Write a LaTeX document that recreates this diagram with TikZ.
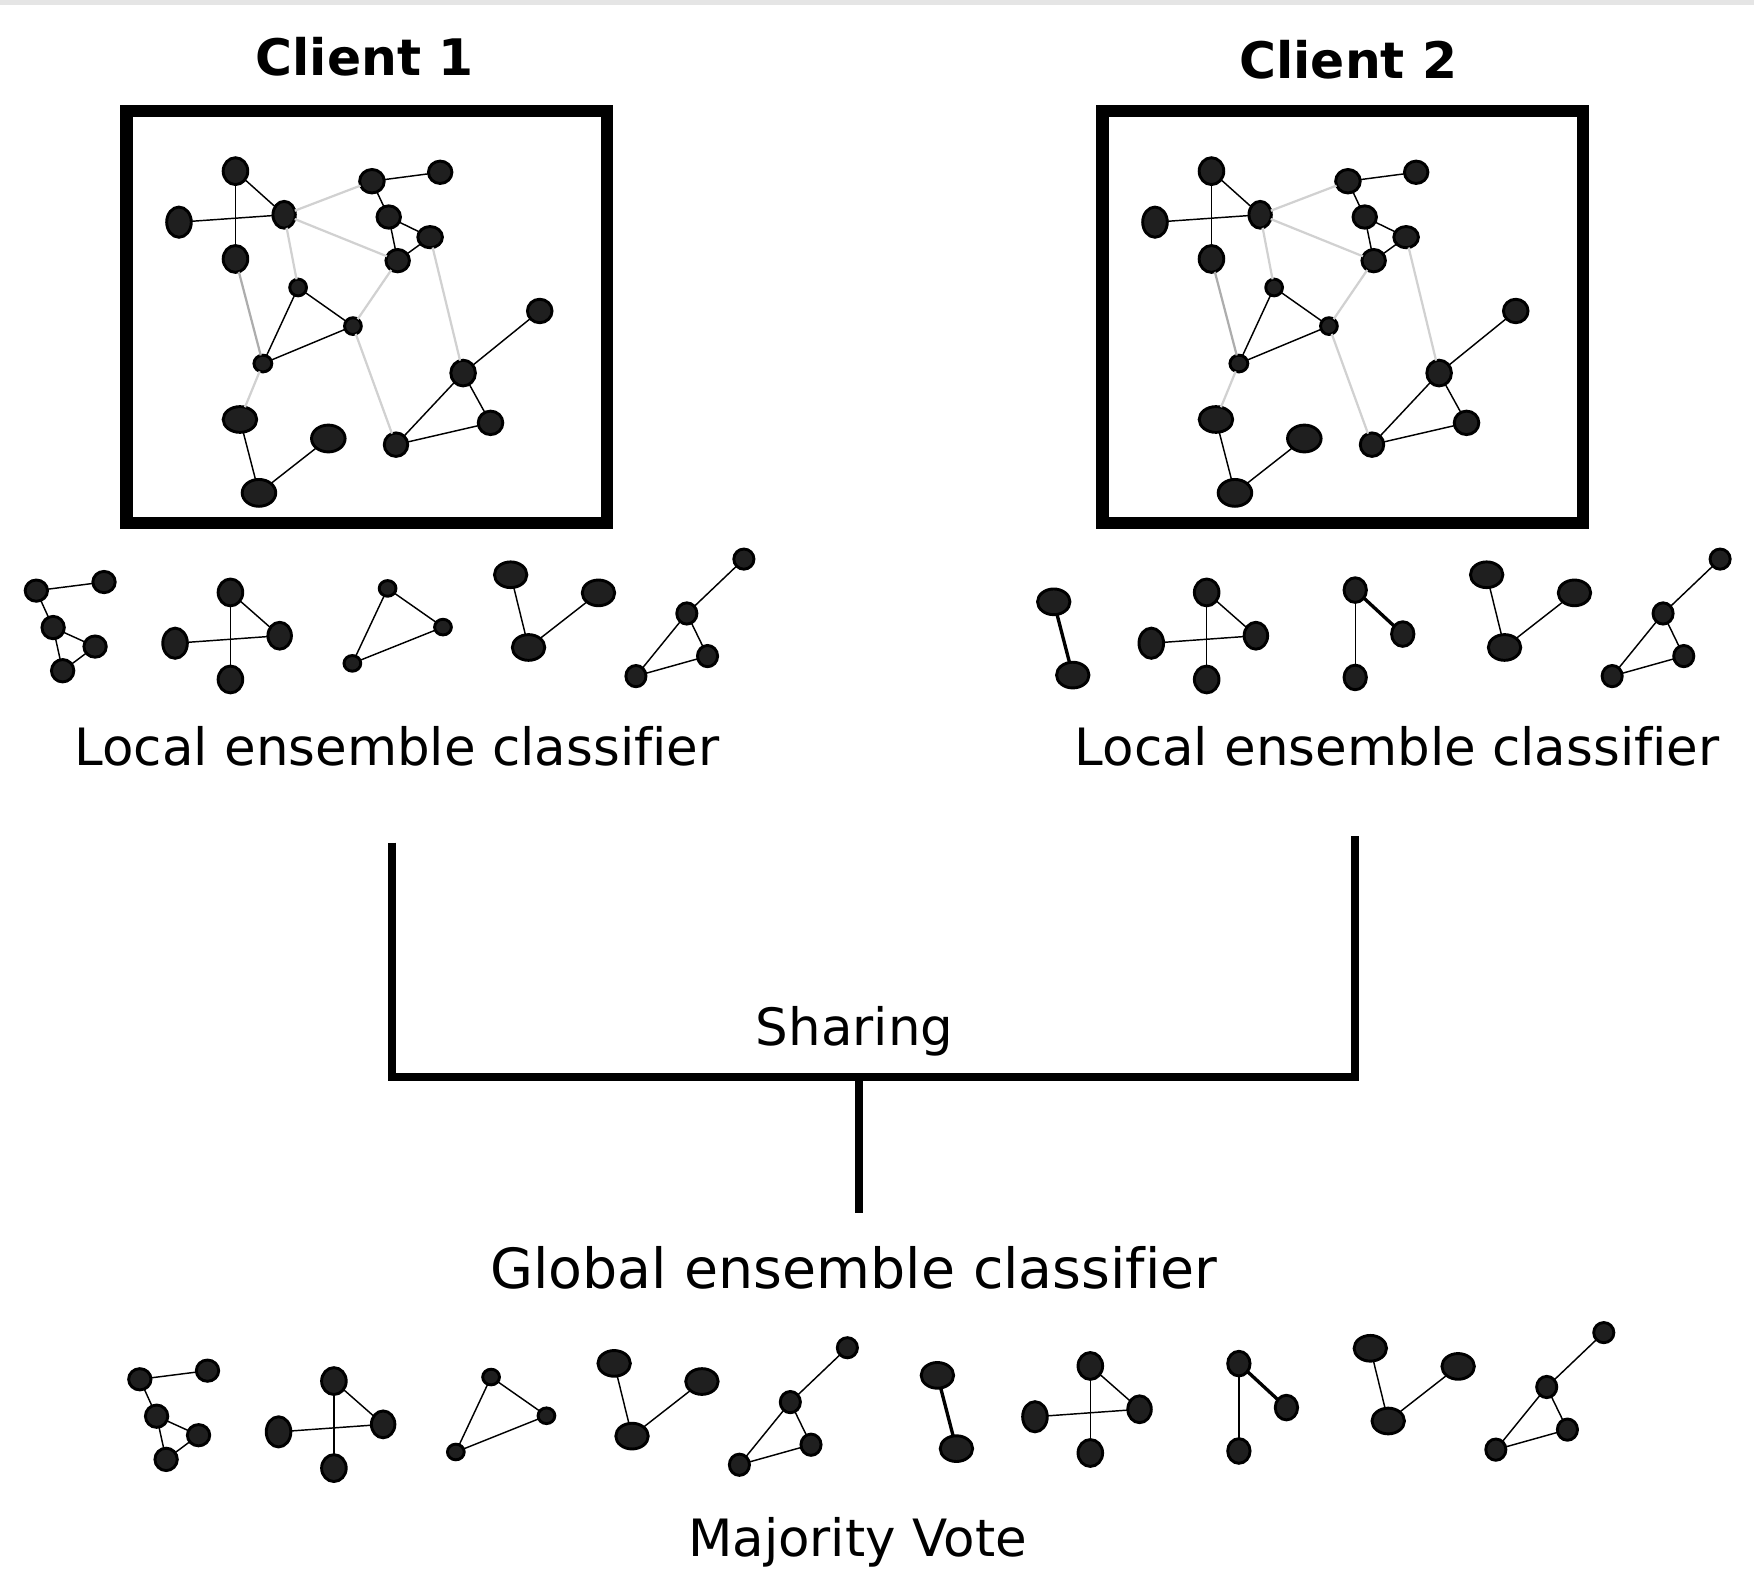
\documentclass[tikz,border=0pt]{standalone}
\usepackage{fontspec}
\setmainfont[Ligatures=NoCommon]{DejaVu Sans}
\usetikzlibrary{shapes.geometric}

\newcommand\gnd[5]{\node[gn, minimum width=#4pt, minimum height=#5pt] (#1) at (#2,#3) {};}

\tikzset{
 gn/.style={ellipse, draw=black, fill=black!88, line width=2.6pt, inner sep=0pt, outer sep=0pt},
 ge/.style={draw=black, line width=1.3pt},
 gthick/.style={draw=black, line width=3pt},
 glight/.style={draw=black!18, line width=2pt},
 gdark/.style={draw=black!32, line width=2pt},
 frame/.style={draw=black, line width=11pt, rectangle, inner sep=0pt, outer sep=0pt},
 bus/.style={draw=black, line width=7.5pt, line join=miter},
 lbl/.style={font=\fontsize{46}{55}\selectfont, anchor=base, inner sep=0pt},
 ttl/.style={font=\fontsize{45}{54}\selectfont\bfseries, anchor=base, inner sep=0pt},
 maingraph/.pic={
  \gnd{-A}{210.5}{153}{22}{24}
  \gnd{-B}{160}{198.6}{22}{27}
  \gnd{-C}{254}{192}{20}{24}
  \gnd{-D}{210.5}{231.5}{22}{24}
  \gnd{-E}{332.5}{162}{22}{21}
  \gnd{-F}{393.5}{154}{21}{20}
  \gnd{-G}{347.5}{194}{21}{20}
  \gnd{-H}{384.5}{212}{22}{19}
  \gnd{-I}{355.5}{233}{21}{20}
  \gnd{-J}{266.5}{257}{15}{15}
  \gnd{-K}{315.5}{291.5}{15}{15}
  \gnd{-L}{235}{325}{16}{15}
  \gnd{-M}{482.5}{278}{22}{21}
  \gnd{-N}{414}{333.5}{22}{23}
  \gnd{-O}{438.5}{378}{22}{21}
  \gnd{-P}{354}{397.5}{21}{21}
  \gnd{-Q}{214.5}{375}{30}{23}
  \gnd{-R}{293.5}{392}{30}{24}
  \gnd{-S}{231.5}{440.6}{30}{24}
  \draw[glight] (-C) -- (-E);
  \draw[glight] (-C) -- (-I);
  \draw[glight] (-C) -- (-J);
  \draw[gdark] (-D) -- (-L);
  \draw[glight] (-I) -- (-K);
  \draw[glight] (-H) -- (-N);
  \draw[glight] (-K) -- (-P);
  \draw[glight] (-L) -- (-Q);
  \draw[ge] (-A) -- (-D);
  \draw[ge] (-B) -- (-C);
  \draw[ge] (-A) -- (-C);
  \draw[ge] (-E) -- (-F);
  \draw[ge] (-E) -- (-G);
  \draw[ge] (-G) -- (-H);
  \draw[ge] (-G) -- (-I);
  \draw[ge] (-H) -- (-I);
  \draw[ge] (-J) -- (-K);
  \draw[ge] (-J) -- (-L);
  \draw[ge] (-K) -- (-L);
  \draw[ge] (-M) -- (-N);
  \draw[ge] (-N) -- (-O);
  \draw[ge] (-N) -- (-P);
  \draw[ge] (-O) -- (-P);
  \draw[ge] (-Q) -- (-S);
  \draw[ge] (-S) -- (-R);
 },
 sgA/.pic={
  \gnd{-a}{32.5}{528}{20}{19}
  \gnd{-b}{93}{520.3}{20}{19}
  \gnd{-c}{47.5}{561}{20}{20}
  \gnd{-d}{85}{578}{20}{19}
  \gnd{-e}{56}{599.6}{20}{20}
  \draw[ge] (-a) -- (-b);
  \draw[ge] (-a) -- (-c);
  \draw[ge] (-c) -- (-d);
  \draw[ge] (-c) -- (-e);
  \draw[ge] (-d) -- (-e);
 },
 sgB/.pic={
  \gnd{-t}{206}{529.6}{22}{24}
  \gnd{-l}{156.5}{575}{22}{27}
  \gnd{-r}{250}{568.3}{21}{24}
  \gnd{-b}{206}{607.4}{22}{24}
  \draw[ge] (-t) -- (-b);
  \draw[ge] (-l) -- (-r);
  \draw[ge] (-t) -- (-r);
 },
 sgC/.pic={
  \gnd{-a}{346.5}{526}{15}{14}
  \gnd{-b}{396}{560.6}{15}{14}
  \gnd{-c}{315}{593}{15}{14}
  \draw[ge] (-a) -- (-b);
  \draw[ge] (-a) -- (-c);
  \draw[ge] (-b) -- (-c);
 },
 sgD/.pic={
  \gnd{-a}{456.5}{513.8}{29}{23}
  \gnd{-b}{535}{530}{29}{23}
  \gnd{-c}{472.5}{578.8}{29}{23}
  \draw[ge] (-a) -- (-c);
  \draw[ge] (-c) -- (-b);
 },
 sgE/.pic={
  \gnd{-a}{665}{499.8}{18}{18}
  \gnd{-b}{614}{548.4}{18}{19}
  \gnd{-c}{632.5}{586.5}{18}{19}
  \gnd{-d}{568.5}{604.4}{18}{19}
  \draw[ge] (-a) -- (-b);
  \draw[ge] (-b) -- (-c);
  \draw[ge] (-b) -- (-d);
  \draw[ge] (-c) -- (-d);
 },
 sgF/.pic={
  \gnd{-a}{942}{538}{29}{23}
  \gnd{-b}{959}{603.5}{29}{23}
  \draw[gthick] (-a) -- (-b);
 },
 sgG/.pic={
  \gnd{-t}{1211.5}{527.5}{20}{22}
  \gnd{-r}{1254}{566.8}{20}{22}
  \gnd{-b}{1211.5}{605.6}{20}{22}
  \draw[ge] (-t) -- (-b);
  \draw[gthick] (-t) -- (-r);
 },
}

\begin{document}
\begin{tikzpicture}[x=1pt, y=-1pt]
\useasboundingbox (0,0) rectangle (1568,1425);
\fill[black!10] (0,0) rectangle (1568,4.5);

% titles
\node[ttl] (c1) at (326,67.7) {Client 1};
\node[ttl] (c2) at (1205.5,70) {Client 2};

% client frames
\node[frame, minimum width=429.5pt, minimum height=368.2pt] (box1) at (327.75,283.2) {};
\node[frame, minimum width=429.5pt, minimum height=368.2pt] (box2) at (1200.25,283.2) {};

% networks inside the frames
\pic (m1) at (0,0) {maingraph};
\pic (m2) at (872.5,0) {maingraph};

% local ensemble of client 1
\pic (ra) at (0,0) {sgA};
\pic (rb) at (0,0) {sgB};
\pic (rc) at (0,0) {sgC};
\pic (rd) at (0,0) {sgD};
\pic (re) at (0,0) {sgE};
% local ensemble of client 2
\pic (sf) at (0,0) {sgF};
\pic (sb) at (872.7,0) {sgB};
\pic (sg) at (0,0) {sgG};
\pic (sd) at (872.5,0) {sgD};
\pic (se) at (872.7,0) {sgE};

\node[lbl] (loc1) at (355,684) {Local ensemble classifier};
\node[lbl] (loc2) at (1249,684) {Local ensemble classifier};

% sharing connector
\coordinate (l1top) at (350.5,753.3);
\coordinate (l2top) at (1211.5,747.4);
\coordinate (busL) at (350.5,963);
\coordinate (busR) at (1211.5,963);
\coordinate (busM) at (768,963);
\coordinate (gtop) at (768,1084);
\draw[bus] (l1top) -- (busL) -- (busR) -- (l2top);
\draw[bus] (busM) -- (gtop);

\node[lbl] (share) at (764,935) {Sharing};
\node[lbl, font=\fontsize{49.5}{59}\selectfont] (glob) at (763.5,1151.7) {Global ensemble classifier};

% global ensemble
\pic (ga) at (92.5,705) {sgA};
\pic (gb) at (92.5,705) {sgB};
\pic (gc) at (92.5,705) {sgC};
\pic (gd) at (92.5,705) {sgD};
\pic (ge) at (92.5,705) {sgE};
\pic (gf) at (-104,691.5) {sgF};
\pic (gbb) at (768.7,691.5) {sgB};
\pic (gg) at (-104,691.5) {sgG};
\pic (gdd) at (768.5,691.5) {sgD};
\pic (gee) at (768.7,691.5) {sgE};

\node[lbl] (vote) at (766.5,1391.6) {Majority Vote};
\end{tikzpicture}
\end{document}
